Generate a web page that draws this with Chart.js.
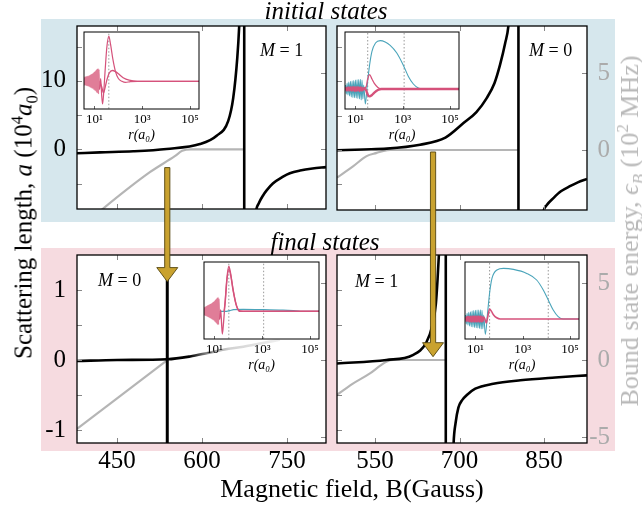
<!DOCTYPE html>
<html><head><meta charset="utf-8">
<script src="https://cdn.jsdelivr.net/npm/chart.js@4.4.0/dist/chart.umd.min.js"></script>
<style>
html,body{margin:0;padding:0;background:#fff;}
#fig{position:relative;width:642px;height:512px;overflow:hidden;font-family:"Liberation Serif","Times New Roman",serif;}
.box{position:absolute;}
canvas{position:absolute;}
.txt{position:absolute;white-space:nowrap;line-height:1;color:#000;z-index:10;}
.rot{transform:translate(-50%,-50%) rotate(-90deg);}
sup,sub{font-size:0.66em;line-height:0;}
</style></head><body>
<div id="fig">
  <div class="box" style="left:41px;top:19px;width:574px;height:203px;background:rgb(214,231,237);"></div>
  <div class="box" style="left:41px;top:248px;width:574px;height:203px;background:rgb(246,219,224);"></div>
  <canvas id="cTL" style="z-index:1"></canvas>
  <canvas id="cTR" style="z-index:1"></canvas>
  <canvas id="cBL" style="z-index:1"></canvas>
  <canvas id="cBR" style="z-index:1"></canvas>
  <canvas id="iTL" style="z-index:2"></canvas>
  <canvas id="iTR" style="z-index:2"></canvas>
  <canvas id="iBL" style="z-index:2"></canvas>
  <canvas id="iBR" style="z-index:2"></canvas>
  <canvas id="arrows" width="642" height="512" style="left:0;top:0;z-index:5;pointer-events:none"></canvas>
  <div class="txt" style="left:326px;top:-2px;font-size:25px;font-style:italic;transform:translateX(-50%)">initial states</div>
  <div class="txt" style="left:325px;top:229px;font-size:25px;font-style:italic;transform:translateX(-50%)">final states</div>
  <div class="txt" style="left:352px;top:476px;font-size:26px;transform:translateX(-50%)">Magnetic field, B(Gauss)</div>
  <div class="txt" style="left:260px;top:41px;font-size:18px"><i>M</i> = 1</div>
  <div class="txt" style="left:529px;top:41px;font-size:18px"><i>M</i> = 0</div>
  <div class="txt" style="left:98px;top:271px;font-size:18px"><i>M</i> = 0</div>
  <div class="txt" style="left:355px;top:272px;font-size:18px"><i>M</i> = 1</div>
  <div class="txt rot" style="left:23px;top:223px;font-size:25px">Scattering length, <i>a</i> (10<sup>4</sup><i>a</i><sub>0</sub>)</div>
  <div class="txt rot" style="left:630px;top:231px;font-size:26px;color:#b9b9b9">Bound state energy, <i>ϵ</i><sub><i>B</i></sub> (10<sup>2</sup> MHz)</div>
</div>
<script>
// ---------------- data ----------------
const xRangeLeft = [379.4, 818.8];
const xRangeRight = [482.5, 926.3];
const xTicksLeft = [450, 600, 750];
const xTicksRight = [550, 700, 850];

const aRangeTop = [-8.714, 18.0];
const eRangeTop = [-3.91, 8.08];
const aRangeBot = [-1.186, 1.5];
const eRangeBot = [-5.39, 6.82];

const aTicksTop = [-5, 0, 5, 10, 15];
const aLabelsTop = [0, 10];
const eTicksTop = [0, 5];
const eLabelsTop = [0, 5];
const aTicksBot = [-1, -0.5, 0, 0.5, 1];
const aLabelsBot = [-1, 0, 1];
const eTicksBot = [-5, 0, 5];
const eLabelsBot = [-5, 0, 5];

// initial states, M=1 (top left)
const tlBLeft = [379.4, 420, 478.8, 537.6, 596.4, 625.8, 646.3, 655.1, 662.2, 665.7, 667.5];
const tlALeft = [-0.58, -0.45, -0.29, 0.05, 0.77, 1.98, 4.15, 7.5, 13.3, 18.1, 22];
const tlPoleB = 674.5;
const tlBRight = [692.5, 695.5, 700, 708, 714, 725, 743, 755, 773, 795, 818.8];
const tlARight = [-11, -8.9, -7.9, -6.7, -6.0, -5.0, -4.0, -3.5, -3.1, -2.8, -2.6];
const tlEB = [400, 425, 508, 552, 565, 580, 674.5];
const tlE = [-4.7, -3.9, -1.5, -0.45, -0.1, 0, 0];

// initial states, M=0 (top right)
const trBLeft = [482.5, 530, 571, 630, 675, 707, 730, 748, 762, 772, 781, 787, 790];
const trALeft = [-0.04, 0.08, 0.19, 0.76, 1.8, 3.9, 5.5, 7.5, 9.7, 12.4, 15.5, 18.2, 22];
const trPoleB = 804.6;
const trBRight = [845, 849, 855, 867, 880, 896, 910, 926.3];
const trARight = [-11, -8.9, -8.0, -6.96, -6.0, -5.26, -4.7, -4.2];
const trEB = [482.5, 511.5, 535, 553, 565, 577, 804.6];
const trE = [-1.8, -1.05, -0.4, -0.19, -0.06, 0, 0];

// final states, M=0 (bottom left)
const blB = [379.4, 450, 538.7, 579, 610, 640, 673, 705, 737.5];
const blA = [-0.014, 0.0, 0.01, 0.05, 0.1, 0.15, 0.19, 0.24, 0.29];
const blPoleB = 538.7;
const blEB = [379.4, 538.7];
const blE = [-4.48, 0];
const blFadeB = [578, 610, 650, 740];

// final states, M=1 (bottom right)
const brBLeft = [482.5, 570, 617, 641, 652, 658, 661, 664, 666];
const brALeft = [-0.05, 0, 0.07, 0.25, 0.5, 0.8, 1.15, 1.6, 2];
const brPoleB = 675.6;
const brBRight = [688, 689.5, 693, 698, 705, 713, 728, 760, 808, 870, 926.3];
const brARight = [-1.6, -1.19, -0.9, -0.68, -0.57, -0.5, -0.41, -0.34, -0.29, -0.25, -0.22];
const brEB = [482.5, 510, 541, 560, 571, 582.5, 675.6];
const brE = [-2.27, -1.55, -0.87, -0.35, -0.1, 0, 0];

// arrows (field value, start a in top panel, end a in bottom panel)
const arrowB = [538.7, 653];
const arrowFromA = [-2.67, -0.29];
const arrowToA = [1.12, 0.047];

// insets: log10(r) and wavefunction values
const insetLogRange = [0.56, 5.38];
const insetTicks = [10, 1000, 100000];
const insetTickLabels = ['10¹', '10³', '10⁵'];
const insetYLow = [-1, 1.78];
const insetYHigh = [-1, 2.85];
const noiseEndLog = 1.23;

const noiseL1 = [0.55,0.57,0.59,0.61,0.63,0.65,0.67,0.69,0.71,0.73,0.75,0.77,0.79,0.81,0.83,0.85,0.87,0.89,0.91,0.93,0.95,0.97,0.99,1.01,1.03,1.05,1.07,1.09,1.11,1.13,1.15,1.17,1.19,1.21];
const noiseL2 = [0.58,0.615,0.65,0.685,0.72,0.755,0.79,0.825,0.86,0.895,0.93,0.965,1.0,1.035,1.07,1.105,1.14,1.175,1.21,1.245,1.28,1.315,1.35];

// top-left inset
const tiAL = noiseL1.concat([1.26,1.3,1.34,1.39,1.45,1.52,1.6,1.67,1.77,1.88,2.0,2.15,2.3,2.5,2.8,3.5,4.5,5.4]);
const tiAY = [0.12,-0.14,0.15,-0.13,0.16,-0.15,0.17,-0.16,0.18,-0.17,0.19,-0.18,0.21,-0.2,0.23,-0.22,0.25,-0.24,0.27,-0.26,0.3,-0.29,0.33,-0.32,0.36,-0.35,0.4,-0.4,0.44,-0.42,0.46,-0.45,0.42,-0.3,
              0.1,-0.5,-0.82,-0.35,0.45,1.25,1.63,1.35,0.8,0.35,0.1,0.0,-0.04,-0.01,0,0,0,0];
const tiBL = [1.2,1.3,1.38,1.45,1.52,1.62,1.75,1.88,2.0,2.2,2.45,2.8,3.5,5.4];
const tiBY = [0,-0.2,-0.42,-0.2,0.05,0.3,0.39,0.35,0.27,0.13,0.04,0,0,0];
const tiDots = [1.6];

// top-right inset
const triCL = noiseL2.concat([1.42,1.5,1.6,1.7,1.85,2.05,2.26,2.47,2.75,3.03,3.24,3.45,3.66,3.87,5.4]);
const triCY = [0.2,-0.25,0.3,-0.3,0.35,-0.35,0.38,-0.4,0.4,-0.42,0.42,-0.44,0.45,-0.45,0.46,-0.47,0.47,-0.5,0.48,-0.55,0.45,-0.5,0.2,
               -0.75,0.2,1.2,1.88,2.3,2.42,2.35,2.18,1.8,1.18,0.63,0.25,0.05,0,0];
const triPL = noiseL2.concat([1.45,1.52,1.6,1.7,1.8,1.95,2.1,5.4]);
const triPY = [0.1,-0.1,0.11,-0.12,0.12,-0.11,0.12,-0.12,0.13,-0.12,0.13,-0.13,0.12,-0.13,0.13,-0.12,0.12,-0.13,0.12,-0.12,0.1,-0.1,0.05,
               0.1,0.5,0.72,0.5,0.28,0.08,0,0];
const triQL = [0.55,1.4,1.45,1.52,1.6,1.7,1.8,1.95,2.1,5.4];
const triQY = [0,0,-0.05,-0.28,-0.37,-0.3,-0.18,-0.05,0,0];
const triDots = [1.52, 3.06];

// bottom-left inset
const biAL = noiseL1.concat([1.26,1.3,1.33,1.38,1.45,1.52,1.6,1.67,1.77,1.91,2.05,2.2,5.4]);
const biAY = [0.12,-0.13,0.14,-0.15,0.16,-0.16,0.18,-0.17,0.2,-0.19,0.22,-0.21,0.24,-0.23,0.26,-0.25,0.28,-0.27,0.3,-0.3,0.33,-0.32,0.36,-0.36,0.4,-0.4,0.44,-0.44,0.48,-0.48,0.5,-0.48,0.45,-0.3,
              0.05,-0.5,-0.82,-0.4,0.4,1.2,1.63,1.4,0.84,0.24,0.02,0,0];
const biBL = [1.4,1.45,1.52,1.6,1.68,1.78,1.92,2.05,5.4];
const biBY = [0,0.35,1.12,1.52,1.3,0.75,0.2,0,0];
const biCL = [0.55,1.5,1.63,1.8,2.2,3.0,3.87,4.3,4.6,5.4];
const biCY = [0,0,0.02,0.06,0.07,0.06,0.04,0.02,0,0];
const biDots = [1.6, 3.06];

// bottom-right inset
const briCL = noiseL2.concat([1.42,1.52,1.6,1.7,1.91,2.19,2.61,3.17,3.59,3.87,4.08,4.29,4.5,4.71,5.4]);
const briCY = [0.2,-0.25,0.28,-0.3,0.33,-0.35,0.36,-0.38,0.4,-0.4,0.42,-0.42,0.43,-0.44,0.45,-0.45,0.45,-0.47,0.46,-0.5,0.44,-0.48,0.2,
               -0.77,0.37,1.3,2.03,2.45,2.53,2.48,2.28,1.95,1.45,0.95,0.45,0.12,0,0];
const briPL = noiseL2.concat([1.4,1.46,1.52,1.6,1.68,1.77,1.9,2.05,5.4]);
const briPY = [0.1,-0.12,0.13,-0.13,0.14,-0.14,0.14,-0.15,0.15,-0.15,0.15,-0.15,0.15,-0.15,0.15,-0.15,0.15,-0.15,0.15,-0.15,0.14,-0.14,0.1,
               0,-0.2,0.1,0.5,0.38,0.2,0.06,0,0];
const briDots = [1.6, 4.08];

// ---------------- rendering ----------------
Chart.defaults.font.family = "'Liberation Serif','Times New Roman',serif";
const FONT = {size: 25, family: "'Liberation Serif','Times New Roman',serif"};
const GRAYTXT = '#ababab';
const BLACK = '#000';
const GRAY = '#b5b5b5';
const PINK = '#d5527b';
const PINK_NOISE = '#e07d98';
const CYAN = '#4aa4ba';

const pts = (xs, ys) => xs.map((x, i) => ({x, y: ys[i]}));
const lpts = (ls, ys) => ls.map((l, i) => ({x: Math.pow(10, l), y: ys[i]}));

function line(data, axis, color, width, smooth = true, extra = {}) {
  return Object.assign({data, yAxisID: axis, borderColor: color, borderWidth: width, pointRadius: 0,
    fill: false, tension: 0, cubicInterpolationMode: smooth ? 'monotone' : 'default',
    borderJoinStyle: 'round', capBezierPoints: false}, extra);
}
// lighter colour for the short-range oscillating part of the pink wavefunctions
const noiseSeg = {segment: {borderColor: c => (c.p1.parsed.x < Math.pow(10, noiseEndLog) ? PINK_NOISE : undefined)}};

const framePlugin = {
  id: 'frame',
  beforeDraw(chart) {
    const a = chart.chartArea, c = chart.ctx;
    c.save(); c.fillStyle = '#fff';
    c.fillRect(a.left, a.top, a.right - a.left, a.bottom - a.top);
    c.restore();
  },
  afterDatasetsDraw(chart, args, o) {
    const a = chart.chartArea, c = chart.ctx, s = chart.scales;
    c.save();
    c.lineWidth = o.tickWidth || 1; c.strokeStyle = o.tickColor || '#777';
    c.beginPath();
    (o.xTicks || []).forEach(v => {
      const p = Math.round(s.x.getPixelForValue(v)) + 0.5;
      c.moveTo(p, a.bottom); c.lineTo(p, a.bottom - o.len);
      if (o.top) { c.moveTo(p, a.top); c.lineTo(p, a.top + o.len); }
    });
    (o.leftTicks || []).forEach(v => {
      const p = Math.round(s.yA.getPixelForValue(v)) + 0.5;
      c.moveTo(a.left, p); c.lineTo(a.left + o.len, p);
    });
    (o.rightTicks || []).forEach(v => {
      const p = Math.round(s.yE.getPixelForValue(v)) + 0.5;
      c.moveTo(a.right, p); c.lineTo(a.right - o.len, p);
    });
    c.stroke();
    c.lineWidth = o.frameWidth || 1.3; c.strokeStyle = '#000';
    c.strokeRect(a.left, a.top, a.right - a.left, a.bottom - a.top);
    c.restore();
  }
};

function place(cv, left, top, w, h) {
  cv.width = w; cv.height = h;
  cv.style.left = left + 'px'; cv.style.top = top + 'px';
  cv.style.width = w + 'px'; cv.style.height = h + 'px';
}

// area: [L,T,R,B]
function mainChart(id, area, isLeft, isTop, xRange, xTicks, aRange, aLabels, aTicks, eRange, eLabels, eTicks, datasets) {
  const [L, T, R, B] = area;
  const yAW = isLeft ? 50 : 8;
  const yEW = isLeft ? 8 : 23;
  const padR = isLeft ? 0 : 12;
  const xH = isTop ? 8 : 38;
  const padT = 30, padB = isTop ? 14 : 0;
  const cv = document.getElementById(id);
  place(cv, L - yAW, T - padT, (R - L) + yAW + yEW + padR, (B - T) + padT + xH + padB);
  return new Chart(cv, {
    type: 'line',
    data: {datasets},
    options: {
      responsive: false, animation: false, devicePixelRatio: 1, events: [],
      layout: {padding: {top: padT, bottom: padB, left: 0, right: padR}},
      plugins: {legend: {display: false}, tooltip: {enabled: false},
        frame: {xTicks, top: true, leftTicks: aTicks, rightTicks: eTicks, len: 5, tickColor: '#888', frameWidth: 1.3}},
      scales: {
        x: {type: 'linear', position: 'bottom', min: xRange[0], max: xRange[1],
            grid: {display: false, drawTicks: false}, border: {display: false},
            afterBuildTicks: s => { s.ticks = xTicks.map(v => ({value: v})); },
            ticks: {display: !isTop, autoSkip: false, maxRotation: 0, minRotation: 0, padding: 3, color: BLACK, font: FONT,
                    callback: v => String(v)},
            afterFit: s => { s.height = xH; }},
        yA: {type: 'linear', position: 'left', min: aRange[0], max: aRange[1],
            grid: {display: false, drawTicks: false}, border: {display: false},
            afterBuildTicks: s => { s.ticks = aLabels.map(v => ({value: v})); },
            ticks: {display: isLeft, autoSkip: false, padding: 11, color: BLACK, font: FONT, callback: v => String(v)},
            afterFit: s => { s.width = yAW; }},
        yE: {type: 'linear', position: 'right', min: eRange[0], max: eRange[1],
            grid: {display: false, drawTicks: false}, border: {display: false},
            afterBuildTicks: s => { s.ticks = eLabels.map(v => ({value: v})); },
            ticks: {display: !isLeft, autoSkip: false, padding: 10, crossAlign: 'far', color: GRAYTXT, font: FONT, callback: v => String(v)},
            afterFit: s => { s.width = yEW; }}
      }
    },
    plugins: [framePlugin]
  });
}

function insetChart(id, area, yRange, datasets) {
  const [L, T, R, B] = area;
  const pad = 12, xH = 35;
  const cv = document.getElementById(id);
  place(cv, L - pad, T - pad, (R - L) + 2 * pad, (B - T) + pad + xH);
  return new Chart(cv, {
    type: 'line',
    data: {datasets},
    options: {
      responsive: false, animation: false, devicePixelRatio: 1, events: [],
      layout: {padding: {top: pad, bottom: 0, left: pad, right: pad}},
      plugins: {legend: {display: false}, tooltip: {enabled: false},
        frame: {xTicks: insetTicks, top: false, len: 3, tickColor: '#666', frameWidth: 1}},
      scales: {
        x: {type: 'logarithmic', position: 'bottom', min: Math.pow(10, insetLogRange[0]), max: Math.pow(10, insetLogRange[1]),
            grid: {display: false, drawTicks: false}, border: {display: false},
            afterBuildTicks: s => { s.ticks = insetTicks.map(v => ({value: v})); },
            ticks: {autoSkip: false, maxRotation: 0, minRotation: 0, padding: 3, color: BLACK,
                    font: {size: 13, family: "'Liberation Serif','Times New Roman',serif"},
                    callback: (v, i) => insetTickLabels[insetTicks.indexOf(v)] ?? ''},
            title: {display: true, text: 'r(a₀)', font: {size: 14, style: 'italic', family: "'Liberation Serif','Times New Roman',serif"}, color: BLACK, padding: 0},
            afterFit: s => { s.height = xH; }},
        yA: {type: 'linear', display: false, min: yRange[0], max: yRange[1]}
      }
    },
    plugins: [framePlugin]
  });
}

function dots(list, yr) {
  return list.map(l => line(lpts([l, l], [yr[0] - 1, yr[1] + 1]), 'yA', '#999', 1, false, {borderDash: [1.5, 2]}));
}

// -------- main panels --------
const chTL = mainChart('cTL', [77, 26, 326, 213], true, true, xRangeLeft, xTicksLeft, aRangeTop, aLabelsTop, aTicksTop, eRangeTop, [], eTicksTop, [
  line(pts(tlBLeft, tlALeft), 'yA', BLACK, 2.6),
  line(pts([tlPoleB, tlPoleB], [aRangeTop[0] - 5, aRangeTop[1] + 5]), 'yA', BLACK, 2.6, false),
  line(pts(tlBRight, tlARight), 'yA', BLACK, 2.6),
  line(pts(tlEB, tlE), 'yE', GRAY, 2.2)
]);
const chTR = mainChart('cTR', [337, 26, 587, 213], false, true, xRangeRight, xTicksRight, aRangeTop, [], aTicksTop, eRangeTop, eLabelsTop, eTicksTop, [
  line(pts(trBLeft, trALeft), 'yA', BLACK, 2.6),
  line(pts([trPoleB, trPoleB], [aRangeTop[0] - 5, aRangeTop[1] + 5]), 'yA', BLACK, 2.6, false),
  line(pts(trBRight, trARight), 'yA', BLACK, 2.6),
  line(pts(trEB, trE), 'yE', GRAY, 2.2)
]);
const fadeColor = (ctx) => {
  const ch = ctx.chart;
  if (!ch.chartArea || !ch.scales.x) return BLACK;
  const xs = ch.scales.x;
  const x0 = xs.getPixelForValue(blFadeB[0]), x1 = xs.getPixelForValue(blFadeB[blFadeB.length - 1]);
  const g = ch.ctx.createLinearGradient(x0, 0, x1, 0);
  const cols = ['#000000', '#8c8c8c', '#d2d2d2', '#f0f0f0'];
  blFadeB.forEach((b, i) => g.addColorStop((b - blFadeB[0]) / (blFadeB[blFadeB.length - 1] - blFadeB[0]), cols[i]));
  return g;
};
const chBL = mainChart('cBL', [77, 255, 326, 443], true, false, xRangeLeft, xTicksLeft, aRangeBot, aLabelsBot, aTicksBot, eRangeBot, [], eTicksBot, [
  line(pts([blPoleB, blPoleB], [aRangeBot[0] - 1, aRangeBot[1] + 1]), 'yA', BLACK, 3, false),
  line(pts(blB, blA), 'yA', fadeColor, 2.6),
  line(pts(blEB, blE), 'yE', GRAY, 2.2, false)
]);
const chBR = mainChart('cBR', [337, 255, 587, 443], false, false, xRangeRight, xTicksRight, aRangeBot, [], aTicksBot, eRangeBot, eLabelsBot, eTicksBot, [
  line(pts(brBLeft, brALeft), 'yA', BLACK, 2.6),
  line(pts([brPoleB, brPoleB], [aRangeBot[0] - 1, aRangeBot[1] + 1]), 'yA', BLACK, 2.6, false),
  line(pts(brBRight, brARight), 'yA', BLACK, 2.6),
  line(pts(brEB, brE), 'yE', GRAY, 2.2)
]);

// -------- insets --------
insetChart('iTL', [84, 32, 199, 109], insetYLow, [
  line(lpts(tiAL, tiAY), 'yA', PINK, 1.2, true, noiseSeg),
  line(lpts(tiBL, tiBY), 'yA', PINK, 1.3),
  ...dots(tiDots, insetYLow)
]);
insetChart('iTR', [345, 32, 459, 109], insetYHigh, [
  line(lpts(triPL, triPY), 'yA', PINK, 1.3),
  line(lpts(triQL, triQY), 'yA', PINK, 2.4),
  line(lpts(triCL, triCY), 'yA', CYAN, 1.1),
  ...dots(triDots, insetYHigh)
]);
insetChart('iBL', [204, 262, 319, 339], insetYLow, [
  line(lpts(biAL, biAY), 'yA', PINK, 1.3, true, noiseSeg),
  line(lpts(biBL, biBY), 'yA', PINK, 1.4),
  line(lpts(biCL, biCY), 'yA', CYAN, 1.3),
  ...dots(biDots, insetYLow)
]);
insetChart('iBR', [465, 262, 579, 339], insetYHigh, [
  line(lpts(briPL, briPY), 'yA', PINK, 1.6),
  line(lpts(briCL, briCY), 'yA', CYAN, 1.1),
  ...dots(briDots, insetYHigh)
]);

// -------- arrows (positioned through the charts' scales) --------
function canvasOffset(ch) {
  return [parseFloat(ch.canvas.style.left), parseFloat(ch.canvas.style.top)];
}
function drawArrow(c, x, y0, y1) {
  const sw = 2.6, hw = 10.5, hh = 14;
  c.beginPath();
  c.moveTo(x - sw, y0); c.lineTo(x + sw, y0); c.lineTo(x + sw, y1 - hh); c.lineTo(x + hw, y1 - hh);
  c.lineTo(x, y1); c.lineTo(x - hw, y1 - hh); c.lineTo(x - sw, y1 - hh); c.closePath();
  c.fillStyle = '#c9a22f'; c.fill();
  c.lineWidth = 0.9; c.strokeStyle = '#54450f'; c.stroke();
}
const actx = document.getElementById('arrows').getContext('2d');
[[chTL, chBL], [chTR, chBR]].forEach(([top, bot], i) => {
  const [tx, ty] = canvasOffset(top), [bx, by] = canvasOffset(bot);
  const x = tx + top.scales.x.getPixelForValue(arrowB[i]);
  const y0 = ty + top.scales.yA.getPixelForValue(arrowFromA[i]);
  const y1 = by + bot.scales.yA.getPixelForValue(arrowToA[i]);
  drawArrow(actx, x, y0, y1);
});
</script>
</body></html>
